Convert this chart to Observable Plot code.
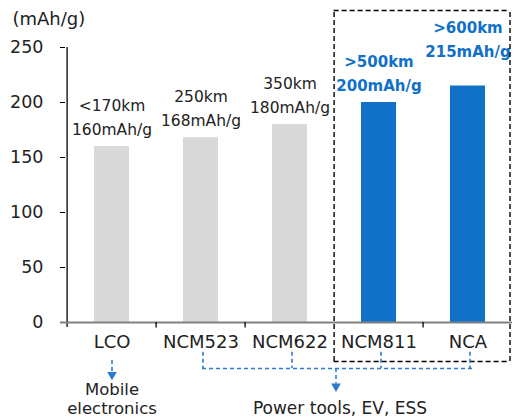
<!DOCTYPE html>
<html>
<head>
<meta charset="utf-8">
<script src="https://cdn.jsdelivr.net/npm/d3@7"></script>
<script src="https://cdn.jsdelivr.net/npm/@observablehq/plot@0.6"></script>
<style>
  html, body { margin: 0; padding: 0; background: #fff; }
  #chart svg { display: block; }
</style>
</head>
<body>
<div id="chart"></div>
<script>
const categories = ["LCO", "NCM523", "NCM622", "NCM811", "NCA"];
const capacity = [160, 168, 180, 200, 215];
const ranges = ["<170km", "250km", "350km", ">500km", ">600km"];
const highlighted = [false, false, false, true, true];
const yTicks = [0, 50, 100, 150, 200, 250];
const unitLabel = "(mAh/g)";
const mobileGroup = ["LCO"];
const powerGroup = ["NCM523", "NCM622", "NCM811", "NCA"];
const mobileLines = ["Mobile", "electronics"];
const powerText = "Power tools, EV, ESS";

const data = categories.map((c, i) => ({
  cat: c, value: capacity[i], range: ranges[i], hi: highlighted[i],
  label: `${ranges[i]}\n${capacity[i]}mAh/g`
}));

const GRAY = "#d9d9d9", BLUE = "#1170c8", DASHBLUE = "#2a7bd4", INK = "#222222";
const F = "DejaVu Sans, sans-serif";

// annotation levels (in data units, below the axis)
const bracketTop = -27, bracketY = -41.8;
const boxTop = 283.6, boxBottom = -35.5;

const grayData = data.filter(d => !d.hi);
const blueData = data.filter(d => d.hi);

const plot = Plot.plot({
  width: 514,
  height: 419,
  marginLeft: 65,
  marginRight: 0,
  marginTop: 47,
  marginBottom: 97,
  style: { fontFamily: F, background: "#fff", overflow: "visible" },
  x: { domain: categories, paddingInner: 0.61, paddingOuter: 0.305, axis: null },
  y: { domain: [0, 250], axis: null },
  marks: [
    Plot.barY(data, { x: "cat", y: "value", fill: d => d.hi ? BLUE : GRAY }),
    // axes
    Plot.axisY({ ticks: yTicks, tickSize: 5, tickPadding: 17, fontSize: 17.5, color: INK, stroke: "#000", label: null }),
    Plot.ruleX(["LCO"], { x: d => d, dx: -44.9, y1: -4.5, y2: 250, stroke: "#000", strokeWidth: 1.3 }),
    Plot.ruleY([0], { stroke: "#808080", strokeWidth: 2, insetLeft: -5, insetRight: 2 }),
    Plot.ruleX(["NCM523", "NCM622", "NCA"], { x: d => d, dx: -44.9, y1: 0, y2: -5, stroke: "#000", strokeWidth: 1.3 }),
    Plot.text(categories, { x: d => d, y: 0, dy: 20, text: d => d, fontSize: 18, fill: INK }),
    Plot.text([unitLabel], { frameAnchor: "top-left", dx: -53, dy: -28, text: d => d, textAnchor: "start", fontSize: 18, fill: INK, lineAnchor: "middle" }),
    // value labels
    Plot.text(grayData, { x: "cat", y: "value", text: "label", dy: -31, fontSize: 15.5, lineHeight: 1.55, fill: INK, lineAnchor: "middle" }),
    Plot.text(blueData.filter(d => d.cat !== "NCA"), { x: "cat", y: "value", text: "label", dy: -31, fontSize: 15, fontWeight: "bold", lineHeight: 1.55, fill: BLUE, lineAnchor: "middle" }),
    Plot.text(blueData.filter(d => d.cat === "NCA"), { x: "cat", y: "value", text: "label", dy: -49, fontSize: 15, fontWeight: "bold", lineHeight: 1.6, fill: BLUE, lineAnchor: "middle" }),
    // dashed highlight box
    Plot.ruleX(["NCM811"], { x: d => d, dx: -44.9, y1: boxBottom, y2: boxTop, stroke: "#000", strokeWidth: 1.4, strokeDasharray: "5,3" }),
    Plot.ruleX(["NCA"], { x: d => d, dx: 42, y1: boxBottom, y2: boxTop, stroke: "#000", strokeWidth: 1.4, strokeDasharray: "5,3" }),
    Plot.ruleY([boxTop, boxBottom], { y: d => d, x1: () => "NCM811", x2: () => "NCA", insetLeft: -27.4, insetRight: -24.5, stroke: "#000", strokeWidth: 1.4, strokeDasharray: "5,3" }),
    // mobile arrow
    Plot.ruleX(mobileGroup, { x: d => d, y1: -34.5, y2: -46, stroke: DASHBLUE, strokeWidth: 1.6, strokeDasharray: "4,3" }),
    Plot.dot(mobileGroup, { x: d => d, y: -47.5, symbol: "triangle", r: 3.6, fill: DASHBLUE, rotate: 180 }),
    Plot.text([mobileLines[0]], { x: () => "LCO", y: -60.9, text: d => d, fontSize: 16.5, fill: INK, lineAnchor: "middle" }),
    Plot.text([mobileLines[1]], { x: () => "LCO", y: -78.5, text: d => d, fontSize: 16.5, fill: INK, lineAnchor: "middle" }),
    // power bracket
    Plot.ruleX(powerGroup, { x: d => d, dx: 2, y1: bracketTop, y2: bracketY, stroke: DASHBLUE, strokeWidth: 1.6, strokeDasharray: "4,3" }),
    Plot.ruleY([bracketY], { y: d => d, x1: () => "NCM523", x2: () => "NCA", insetLeft: 19, insetRight: 13, stroke: DASHBLUE, strokeWidth: 1.6, strokeDasharray: "4,3" }),
    Plot.ruleX(["NCM811"], { x: d => d, dx: -43, y1: bracketY, y2: -56, stroke: DASHBLUE, strokeWidth: 1.6, strokeDasharray: "4,3" }),
    Plot.dot(["NCM811"], { x: d => d, dx: -43, y: -58, symbol: "triangle", r: 3.6, fill: DASHBLUE, rotate: 180 }),
    Plot.text([powerText], { x: () => "NCM811", dx: -39, y: -78.5, text: d => d, fontSize: 17, fill: INK, lineAnchor: "middle" })
  ]
});
document.getElementById("chart").appendChild(plot);
</script>
</body>
</html>
